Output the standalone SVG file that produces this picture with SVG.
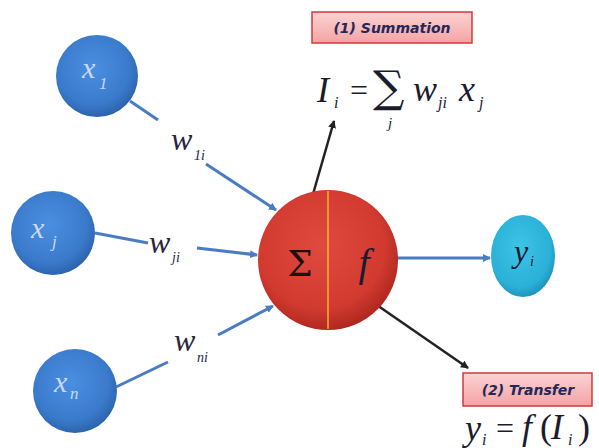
<svg xmlns="http://www.w3.org/2000/svg" width="599" height="448" viewBox="0 0 599 448">
<defs>
<radialGradient id="gBlue" cx="0.45" cy="0.4" r="0.6">
<stop offset="0" stop-color="#4a8fe0"/><stop offset="0.75" stop-color="#3a7acb"/><stop offset="1" stop-color="#2c64ad"/>
</radialGradient>
<radialGradient id="gRed" cx="0.45" cy="0.4" r="0.6">
<stop offset="0" stop-color="#e04a3e"/><stop offset="0.75" stop-color="#d23a30"/><stop offset="1" stop-color="#b02820"/>
</radialGradient>
<radialGradient id="gCyan" cx="0.45" cy="0.4" r="0.6">
<stop offset="0" stop-color="#3cc4e6"/><stop offset="0.8" stop-color="#2bb0d8"/><stop offset="1" stop-color="#1f95bd"/>
</radialGradient>
<linearGradient id="gBox" x1="0" y1="0" x2="0" y2="1">
<stop offset="0" stop-color="#fbd3d3"/><stop offset="1" stop-color="#f4a3a3"/>
</linearGradient>
<marker id="aBlue" markerWidth="8" markerHeight="8" refX="7" refY="4" orient="auto" markerUnits="userSpaceOnUse">
<path d="M0,0 L8,4 L0,8 z" fill="#4a7cc4"/>
</marker>
<marker id="aBlack" markerWidth="8" markerHeight="8" refX="7" refY="4" orient="auto" markerUnits="userSpaceOnUse">
<path d="M0,0 L8,4 L0,8 z" fill="#222"/>
</marker>
</defs>
<style>
.in{fill:url(#gBlue)}
.lbl{font-family:"Liberation Serif",serif;font-style:italic;fill:#c9d9f2}
.math{font-family:"Liberation Serif",serif;font-style:italic;fill:#1b1b2e}
.rm{font-family:"Liberation Serif",serif;fill:#1b1b2e}
.w{font-family:"Liberation Serif",serif;font-style:italic;fill:#2a2540}
.bl{stroke:#4a7cc4;stroke-width:3;fill:none}
.bk{stroke:#222;stroke-width:2.5;fill:none}
.box{fill:url(#gBox);stroke:#d23a3a;stroke-width:1.5}
.btx{font-family:"DejaVu Sans","Liberation Sans",sans-serif;font-weight:bold;font-style:italic;fill:#23285a;font-size:14px}
</style>
<rect width="599" height="448" fill="#ffffff"/>
<g id="connectors">
<path class="bl" d="M130,101 L158,120"/>
<path class="bl" d="M206,164 L276,210" marker-end="url(#aBlue)"/>
<path class="bl" d="M95,233 L148,243"/>
<path class="bl" d="M197,248 L257,255" marker-end="url(#aBlue)"/>
<path class="bl" d="M116,387 L168,362"/>
<path class="bl" d="M218,335 L273,306" marker-end="url(#aBlue)"/>
<path class="bl" d="M397,258 L490,258" marker-end="url(#aBlue)"/>
<path class="bk" d="M305,222 L334,121" marker-end="url(#aBlack)"/>
<path class="bk" d="M358,292 L468,368" marker-end="url(#aBlack)"/>
</g>
<g id="x1">
<circle class="in" cx="97" cy="76" r="41"/>
<text class="lbl" x="82" y="78" font-size="30">x</text>
<text class="lbl" x="99" y="89" font-size="17">1</text>
</g>
<g id="xj">
<circle class="in" cx="53" cy="233" r="42"/>
<text class="lbl" x="31" y="238" font-size="30">x</text>
<text class="lbl" x="52" y="247" font-size="17">j</text>
</g>
<g id="xn">
<circle class="in" cx="75" cy="391" r="42"/>
<text class="lbl" x="54" y="392" font-size="30">x</text>
<text class="lbl" x="70" y="399" font-size="17">n</text>
</g>
<g id="w1i">
<text class="w" x="171" y="150" font-size="32">w</text>
<text class="w" x="194" y="160" font-size="14">1i</text>
</g>
<g id="wji">
<text class="w" x="149" y="253" font-size="32">w</text>
<text class="w" x="172" y="262" font-size="14">ji</text>
</g>
<g id="wni">
<text class="w" x="174" y="351" font-size="32">w</text>
<text class="w" x="197" y="362" font-size="14">ni</text>
</g>
<g id="neuron">
<circle cx="328" cy="260" r="70" fill="url(#gRed)"/>
<line x1="328" y1="191" x2="328" y2="329" stroke="#f2b233" stroke-width="1.5"/>
<text x="300" y="276" font-family="'DejaVu Serif','Liberation Serif',serif" font-size="36" fill="#1a1010" text-anchor="middle">Σ</text>
<text class="math" x="364" y="276" font-size="40" text-anchor="middle">f</text>
</g>
<g id="yi">
<ellipse cx="523" cy="256" rx="32" ry="41" fill="url(#gCyan)"/>
<text class="math" x="514" y="262" font-size="32">y</text>
<text class="math" x="530" y="266" font-size="14">i</text>
</g>
<g id="summation">
<rect class="box" x="312" y="12" width="160" height="31"/>
<text class="btx" x="392" y="33" text-anchor="middle">(1) Summation</text>
<text class="math" x="317" y="102" font-size="36">I</text>
<text class="math" x="334" y="108" font-size="16">i</text>
<text class="rm" x="350" y="101" font-size="32">=</text>
<text x="373" y="102" font-family="'DejaVu Serif','Liberation Serif',serif" font-size="44" fill="#1b1b2e">∑</text>
<text class="math" x="388" y="128" font-size="15">j</text>
<text class="math" x="413" y="101" font-size="36">w</text>
<text class="math" x="438" y="108" font-size="16">ji</text>
<text class="math" x="459" y="101" font-size="36">x</text>
<text class="math" x="479" y="108" font-size="16">j</text>
</g>
<g id="transfer">
<rect class="box" x="463" y="373" width="129" height="33"/>
<text class="btx" x="528" y="395" text-anchor="middle">(2) Transfer</text>
<text class="math" x="465" y="440" font-size="36">y</text>
<text class="math" x="482" y="445" font-size="16">i</text>
<text class="rm" x="496" y="439" font-size="32">=</text>
<text class="math" x="522" y="439" font-size="36">f</text>
<text class="rm" x="540" y="439" font-size="36">(</text>
<text class="math" x="551" y="439" font-size="36">I</text>
<text class="math" x="568" y="445" font-size="16">i</text>
<text class="rm" x="578" y="439" font-size="36">)</text>
</g>
</svg>
